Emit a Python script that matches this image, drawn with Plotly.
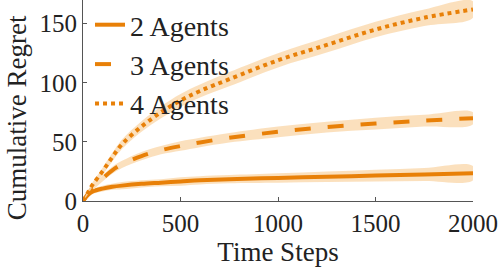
import plotly.graph_objects as go

t = [0, 25, 50, 100, 150, 200, 300, 400, 500, 600, 750, 1000, 1250, 1500, 1750, 2000]
agents2 = [0, 5, 8, 10.5, 12, 13, 14.5, 15.5, 16.5, 17.5, 18.5, 19.5, 20.5, 21.5, 22.5, 23.5]
agents2_err = [0, 1.5, 2, 2.5, 2.5, 3, 3, 3, 3.5, 3.5, 3.5, 4, 4.5, 5, 5.5, 6]
agents3 = [0, 6, 11, 19, 26, 31, 38, 43, 46.5, 49.5, 53.5, 58.5, 62.5, 65.5, 68, 70]
agents3_err = [0, 1.5, 2, 2.5, 3, 3, 3.5, 3.5, 4, 4, 4, 4.5, 4.5, 5, 5, 5]
agents4 = [0, 7, 14, 25, 37, 48, 63, 75, 85, 93, 103, 119, 132, 145, 155, 162]
agents4_err = [0, 1.5, 2, 3, 3.5, 4, 4.5, 5, 5.5, 5.5, 6, 6, 6.5, 6.5, 7, 7]

names = ["2 Agents", "3 Agents", "4 Agents"]
series = [agents2, agents3, agents4]
errs = [agents2_err, agents3_err, agents4_err]
dashes = ["solid", "16px,17px", "4px,4px"]

LINE = "rgb(232,128,8)"
BAND = "rgba(250,218,178,0.85)"
FONT = "'Liberation Serif', 'DejaVu Serif', serif"

fig = go.Figure()
for i, (n, y, e, d) in enumerate(zip(names, series, errs, dashes)):
    upper = [a + b for a, b in zip(y, e)]
    lower = [a - b for a, b in zip(y, e)]
    fig.add_trace(go.Scatter(x=t + t[::-1], y=upper + lower[::-1], fill="toself",
                             fillcolor=BAND, line=dict(width=0, shape="spline"),
                             mode="lines", showlegend=False, hoverinfo="skip",
                             legendgroup=n))
    fig.add_trace(go.Scatter(x=t, y=y, mode="lines", name=n, legendgroup=n,
                             line=dict(color=LINE, width=4, dash=d, shape="spline")))

fig.add_annotation(text="Cumulative Regret", textangle=-90, xref="paper", yref="paper",
                   x=-0.17, y=0.415, xanchor="center", yanchor="middle", showarrow=False,
                   font=dict(size=27, family=FONT, color="#222"))

fig.update_layout(
    width=499, height=270,
    margin=dict(l=83, r=26, t=0, b=69, autoexpand=False),
    plot_bgcolor="white", paper_bgcolor="white",
    font=dict(family=FONT, size=25, color="#222"),
    showlegend=True,
    legend=dict(x=0.018, y=1.0, xanchor="left", yanchor="top",
                bgcolor="rgba(0,0,0,0)", font=dict(size=28, family=FONT),
                tracegroupgap=0, itemwidth=30),
    xaxis=dict(range=[0, 2000], tickvals=[0, 500, 1000, 1500, 2000],
               showgrid=False, zeroline=False, showline=True, linecolor="#555",
               linewidth=1, ticks="inside", ticklen=4, tickcolor="#555",
               automargin=False,
               title=dict(text="Time Steps", font=dict(size=27, family=FONT), standoff=2),
               tickfont=dict(size=25, family=FONT)),
    yaxis=dict(range=[0, 170], tickvals=[0, 50, 100, 150],
               showgrid=False, zeroline=False, showline=True, linecolor="#555",
               linewidth=1, ticks="inside", ticklen=4, tickcolor="#555",
               automargin=False,
               tickfont=dict(size=25, family=FONT)),
)

fig.write_html("out.html", config={"displayModeBar": False},
               post_script="document.body.style.margin='0';")
